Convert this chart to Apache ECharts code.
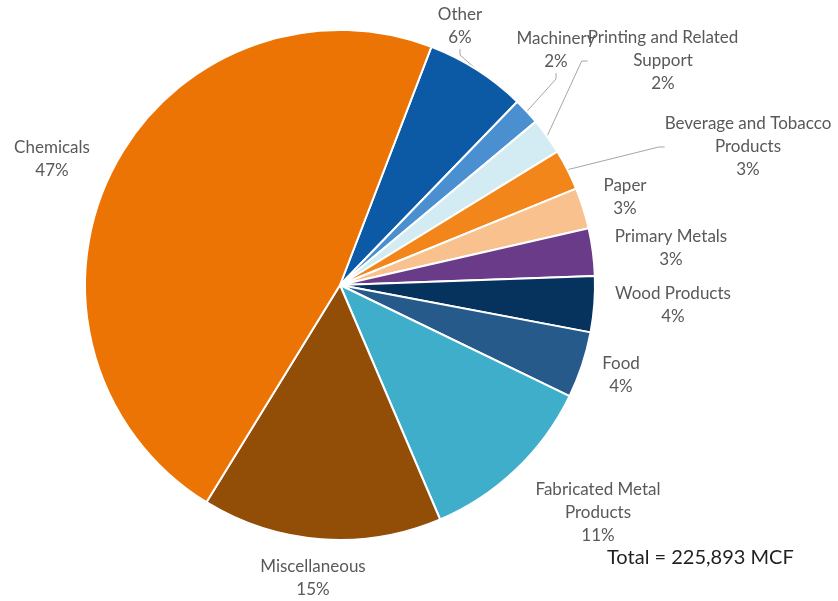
<!DOCTYPE html>
<html>
<head>
<meta charset="utf-8">
<title>Natural gas use by industry</title>
<script src="https://cdn.jsdelivr.net/npm/echarts@6/dist/echarts.min.js"></script>
<style>
  html, body { margin: 0; padding: 0; background: #ffffff; }
  #chart { width: 838px; height: 601px; }
</style>
</head>
<body>
<div id="chart"></div>
<script>
// Industry categories, clockwise from the top of the pie
const categories = [
  'Other', 'Machinery', 'Printing and Related\nSupport', 'Beverage and Tobacco\nProducts',
  'Paper', 'Primary Metals', 'Wood Products', 'Food', 'Fabricated Metal\nProducts',
  'Miscellaneous', 'Chemicals'
];
// Consumption per industry, MCF
const consumption = [14457, 3840, 5196, 5873, 5873, 6777, 8000, 9488, 25752, 34336, 106301];
// Slice fills
const sliceColors = [
  '#0c5aa6', '#4a8fd0', '#d3ecf3', '#f2861a', '#f8c18d', '#6a3b88',
  '#06325e', '#255a8b', '#3eaecb', '#924d07', '#ec7404'
];
// Label anchor (centre of each text block) and whether a leader line is drawn
const labelPlacement = [
  { x: 460, y: 26, line: true },
  { x: 556, y: 50, line: true },
  { x: 663, y: 61, line: true },
  { x: 748, y: 147, line: true },
  { x: 625, y: 197, line: false },
  { x: 671, y: 248, line: false },
  { x: 673, y: 305, line: false },
  { x: 621, y: 375, line: false },
  { x: 598, y: 513, line: false },
  { x: 313, y: 578, line: false },
  { x: 52, y: 159, line: false }
];

const total = consumption.reduce((a, b) => a + b, 0);

const chart = echarts.init(document.getElementById('chart'), null, { renderer: 'canvas' });

const seriesData = categories.map((name, i) => ({
  name: name,
  value: consumption[i],
  itemStyle: { color: sliceColors[i] },
  labelLine: { show: labelPlacement[i].line }
}));

chart.setOption({
  backgroundColor: '#ffffff',
  animation: false,
  graphic: [{
    type: 'text',
    left: 607,
    top: 548,
    style: {
      text: 'Total = ' + total.toLocaleString('en-US') + ' MCF',
      font: '20px Lato',
      fill: '#1f1f1f'
    }
  }],
  series: [{
    type: 'pie',
    center: [340, 285],
    radius: 255,
    startAngle: 69,
    clockwise: true,
    avoidLabelOverlap: false,
    itemStyle: { borderColor: '#ffffff', borderWidth: 2 },
    label: {
      show: true,
      position: 'outside',
      fontFamily: 'Lato',
      fontSize: 17,
      lineHeight: 23,
      color: '#595959',
      align: 'center',
      formatter: p => p.name + '\n' + Math.round(p.value / total * 100) + '%'
    },
    labelLine: {
      length: 10,
      length2: 6,
      lineStyle: { color: '#a6a6a6', width: 1 }
    },
    labelLayout: params => {
      const pos = labelPlacement[params.dataIndex];
      return { x: pos.x, y: pos.y, align: 'center', verticalAlign: 'middle' };
    },
    emphasis: { disabled: true },
    data: seriesData
  }]
});
</script>
</body>
</html>
